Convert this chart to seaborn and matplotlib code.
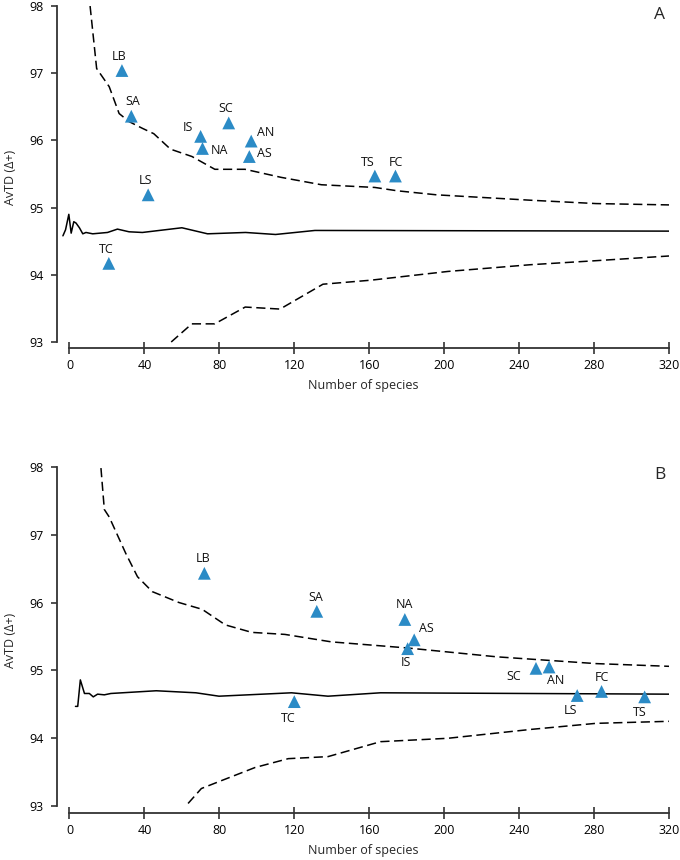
import numpy as np
import pandas as pd
import matplotlib.pyplot as plt
import seaborn as sns

# ---- panel A ----
a_sites = ['TC', 'LB', 'SA', 'LS', 'IS', 'NA', 'SC', 'AS', 'AN', 'TS', 'FC']
a_species = [21, 28, 33, 42, 70, 71, 85, 96, 97, 163, 174]
a_avtd = [94.17, 97.04, 96.36, 95.19, 96.06, 95.88, 96.26, 95.76, 95.99, 95.47, 95.47]

a_mean_x = [-3.5, -2.1, -0.35, 0.9, 2.3, 3.5, 5.3, 7.1, 8.8, 12.4, 20.3, 25.6, 31.8,
            38.9, 60, 73.7, 94, 110, 131, 320]
a_mean_y = [94.58, 94.67, 94.90, 94.62, 94.79, 94.77, 94.70, 94.61, 94.63, 94.61, 94.63,
            94.68, 94.64, 94.63, 94.70, 94.61, 94.63, 94.60, 94.66, 94.65]
a_up_x = [11.0, 14.5, 21.2, 26.5, 31.8, 38.9, 45, 53.9, 65.4, 77.6, 93.7, 113, 134.5,
          163, 175, 196, 246, 281, 320]
a_up_y = [98.0, 97.07, 96.8, 96.40, 96.28, 96.18, 96.1, 95.87, 95.76, 95.57, 95.57,
          95.45, 95.34, 95.30, 95.25, 95.19, 95.11, 95.06, 95.04]
a_lo_x = [54.3, 65.3, 77.5, 93.8, 112.4, 135.3, 161, 202, 246, 281, 320]
a_lo_y = [93.0, 93.27, 93.27, 93.52, 93.49, 93.86, 93.92, 94.05, 94.15, 94.21, 94.28]

# ---- panel B ----
b_sites = ['LB', 'TC', 'SA', 'NA', 'IS', 'AS', 'SC', 'AN', 'LS', 'FC', 'TS']
b_species = [72, 120, 132, 179, 180.5, 184, 249, 256, 271, 284, 307]
b_avtd = [96.43, 94.54, 95.87, 95.75, 95.32, 95.45, 95.03, 95.05, 94.63, 94.69, 94.61]

b_mean_x = [3.2, 4.4, 5.8, 8.0, 10.6, 12.7, 15, 18.6, 22.1, 46.3, 67.5, 79.8, 118.5,
            138, 166, 320]
b_mean_y = [94.47, 94.47, 94.86, 94.66, 94.66, 94.61, 94.65, 94.64, 94.66, 94.70,
            94.67, 94.62, 94.67, 94.62, 94.67, 94.65]
b_up_x = [16.8, 18.6, 21.2, 30.1, 36.3, 44.2, 58.4, 70.8, 83.2, 97.3, 115, 139.8,
          180.5, 228, 281, 320]
b_up_y = [97.98, 97.37, 97.26, 96.72, 96.38, 96.16, 96.0, 95.90, 95.67, 95.56, 95.53,
          95.42, 95.33, 95.20, 95.10, 95.06]
b_lo_x = [63.3, 70.4, 79.6, 99.1, 116.8, 138, 166, 202, 246, 281, 320]
b_lo_y = [93.04, 93.26, 93.36, 93.57, 93.70, 93.73, 93.95, 94.0, 94.13, 94.22, 94.25]

# label offsets in pixels (dx, dy)
a_offsets = {'LB': (-3, 14), 'SA': (1, 15), 'IS': (-13, 9), 'NA': (17, -2),
             'SC': (-3, 14), 'AN': (14, 9), 'AS': (15, 3), 'LS': (-3, 14),
             'TC': (-3, 14), 'TS': (-7, 14), 'FC': (0, 14)}
b_offsets = {'LB': (-1, 15), 'SA': (-1, 14), 'TC': (-6, -17), 'NA': (0, 15),
             'AS': (12, 11), 'IS': (-2, -14), 'SC': (-22, -8), 'AN': (7, -14),
             'LS': (-7, -15), 'FC': (0, 14), 'TS': (-5, -16)}

sns.set_style('ticks')
plt.rcParams['font.family'] = ['Open Sans', 'DejaVu Sans']

fig = plt.figure(figsize=(6.8, 8.6), dpi=100)
left, right = 57.3 / 680, 669 / 680
ax_a = fig.add_axes([left, 0.5953, right - left, 0.3977])
ax_b = fig.add_axes([left, 0.0543, right - left, 0.4030])
x0 = -6.5  # where the y spine sits in data units

blue = '#2b8bc6'
dash = (0, (6, 3))

panels = [
    (ax_a, 'A', a_sites, a_species, a_avtd, a_mean_x, a_mean_y, a_up_x, a_up_y,
     a_lo_x, a_lo_y, a_offsets, 92.91),
    (ax_b, 'B', b_sites, b_species, b_avtd, b_mean_x, b_mean_y, b_up_x, b_up_y,
     b_lo_x, b_lo_y, b_offsets, 92.895),
]

for ax, tag, sites, spp, avtd, mx, my, ux, uy, lx, ly, offs, ymin in panels:
    sns.lineplot(x=mx, y=my, ax=ax, color='black', lw=1.1, errorbar=None, sort=False)
    sns.lineplot(x=ux, y=uy, ax=ax, color='black', lw=1.1, errorbar=None, sort=False,
                 linestyle=dash)
    sns.lineplot(x=lx, y=ly, ax=ax, color='black', lw=1.1, errorbar=None, sort=False,
                 linestyle=dash)
    df = pd.DataFrame({'site': sites, 'species': spp, 'avtd': avtd})
    sns.scatterplot(data=df, x='species', y='avtd', ax=ax, marker='^', s=85,
                    color=blue, edgecolor='none', zorder=5)
    for s, x, y in zip(sites, spp, avtd):
        ax.annotate(s, (x, y), xytext=offs[s], textcoords='offset pixels',
                    ha='center', va='center', fontsize=9, color='#111111')

    ax.set_xlim(x0, 320)
    ax.set_ylim(ymin, 98)
    ax.set_xticks(np.arange(0, 321, 40))
    ax.set_yticks([93, 94, 95, 96, 97, 98])
    for sp in ['top', 'right']:
        ax.spines[sp].set_visible(False)
    ax.spines['left'].set_bounds(93, 98)
    ax.spines['bottom'].set_bounds(0, 320)
    for sp in ['left', 'bottom']:
        ax.spines[sp].set_linewidth(1.3)
        ax.spines[sp].set_color('#333333')
    ax.tick_params(axis='y', direction='out', length=4, width=1.2, pad=6,
                   labelsize=9, colors='#333333', labelcolor='black')
    ax.tick_params(axis='x', direction='inout', length=8, width=1.2, pad=4,
                   labelsize=9, colors='#333333', labelcolor='black')
    ax.set_xlabel('Number of species', fontsize=9, labelpad=5)
    ax.set_ylabel('AvTD (Δ+)', fontsize=9, labelpad=9)
    ax.text(0.985, 0.975, tag, transform=ax.transAxes, fontsize=12.5,
            ha='center', va='center')
    ax.patch.set_visible(False)

fig.savefig('out.png', dpi=100)
